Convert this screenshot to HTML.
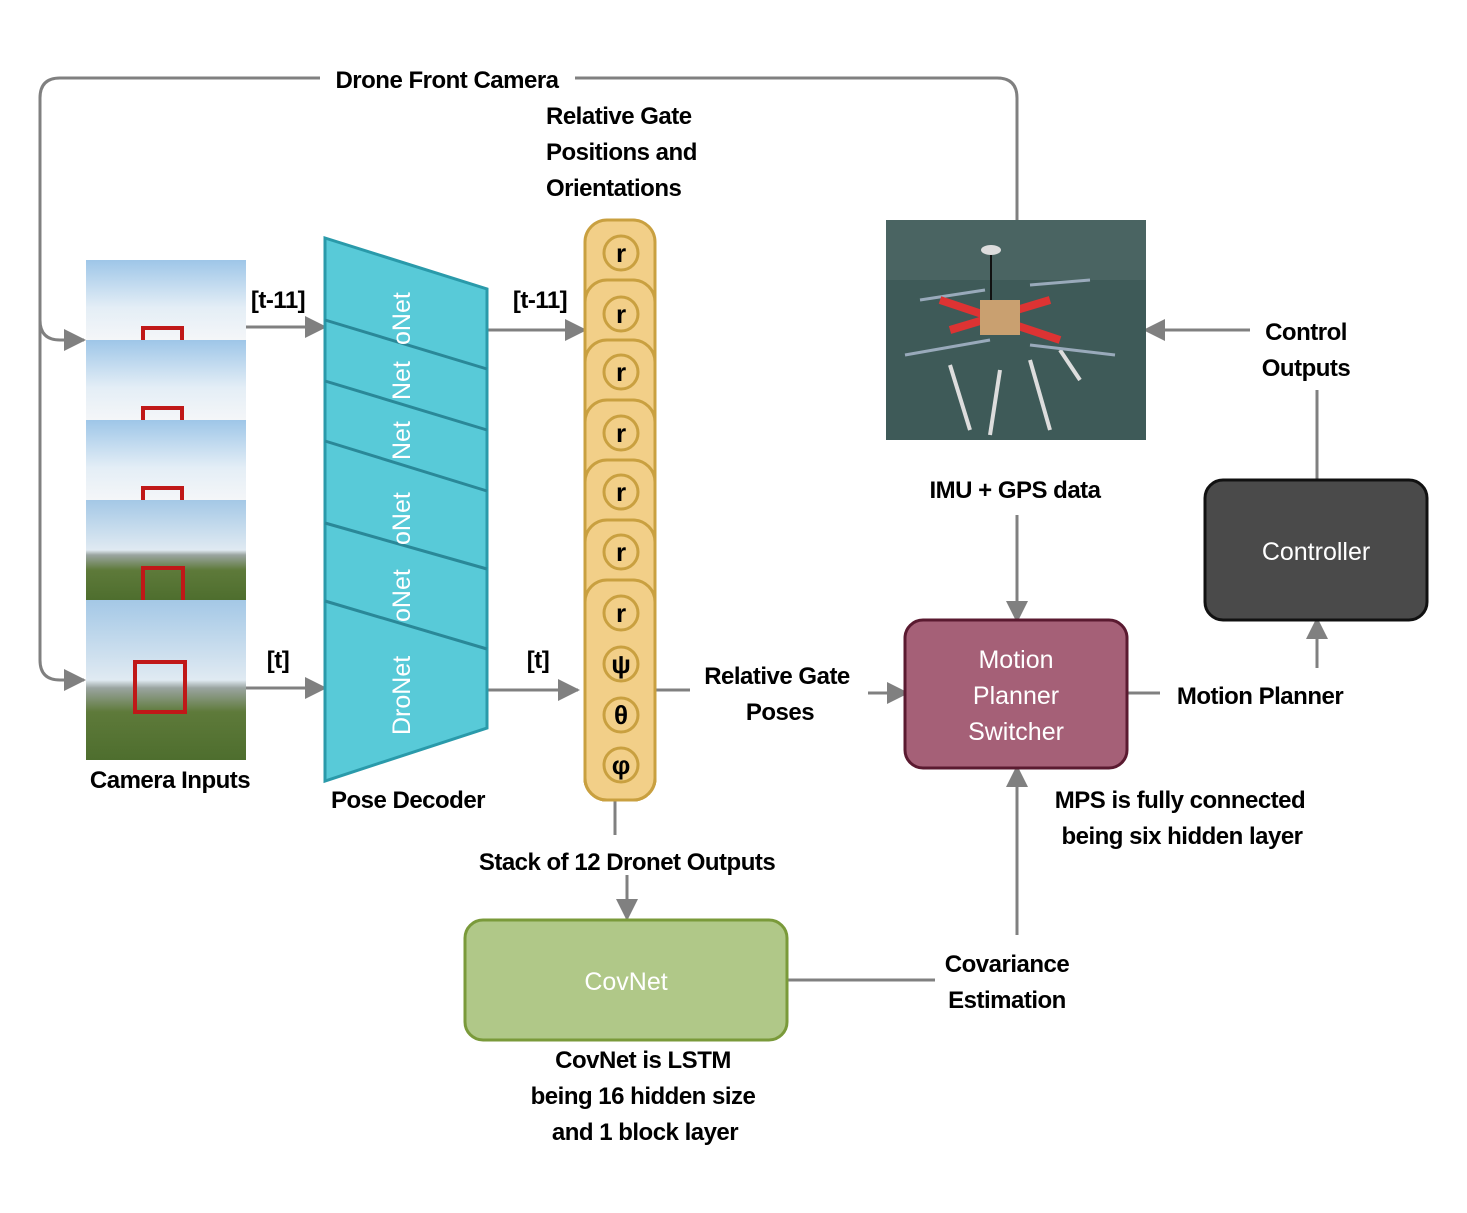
<!DOCTYPE html>
<html><head><meta charset="utf-8"><style>
html,body{margin:0;padding:0;background:#fff;}
svg text{font-family:"Liberation Sans",sans-serif;}
.l{font-weight:bold;font-size:24px;fill:#000;letter-spacing:-0.5px}
.w{fill:#fff;font-size:25px}
.c{font-weight:bold;font-size:26px;fill:#000}
</style></head><body>
<svg width="1467" height="1208" viewBox="0 0 1467 1208" xmlns="http://www.w3.org/2000/svg">
<defs>
<marker id="a" markerWidth="22" markerHeight="22" refX="20" refY="11" orient="auto" markerUnits="userSpaceOnUse" viewBox="0 0 22 22"><path d="M0,0 L22,11 L0,22 z" fill="#808080"/></marker>
<linearGradient id="sky" x1="0" y1="0" x2="0" y2="1"><stop offset="0" stop-color="#9ec6e8"/><stop offset="0.6" stop-color="#e4eef6"/><stop offset="1" stop-color="#f4f6f8"/></linearGradient>
<linearGradient id="sky2" x1="0" y1="0" x2="0" y2="1"><stop offset="0" stop-color="#a4c8e6"/><stop offset="0.5" stop-color="#e0eaf2"/><stop offset="0.55" stop-color="#9aa4a0"/><stop offset="0.7" stop-color="#5e7a3a"/><stop offset="1" stop-color="#4e6e2e"/></linearGradient>
</defs>
<g fill="none" stroke="#808080" stroke-width="3">
<path d="M320,78 H60 Q40,78 40,98 V660 Q40,680 60,680 H84" marker-end="url(#a)"/>
<path d="M40,320 Q40,340 60,340 H84" marker-end="url(#a)"/>
<path d="M575,78 H997 Q1017,78 1017,98 V220"/>
<path d="M246,327 H325" marker-end="url(#a)"/>
<path d="M246,688 H325" marker-end="url(#a)"/>
<path d="M487,330 H585" marker-end="url(#a)"/>
<path d="M487,690 H578" marker-end="url(#a)"/>
<path d="M655,690 H690"/>
<path d="M868,693 H907" marker-end="url(#a)"/>
<path d="M615,800 V835"/>
<path d="M627,875 V919" marker-end="url(#a)"/>
<path d="M787,980 H935"/>
<path d="M1017,935 V767" marker-end="url(#a)"/>
<path d="M1017,515 V621" marker-end="url(#a)"/>
<path d="M1127,693 H1160"/>
<path d="M1317,668 V619" marker-end="url(#a)"/>
<path d="M1317,480 V390"/>
<path d="M1250,330 H1145" marker-end="url(#a)"/>
</g>
<!-- camera images -->
<rect x="86" y="260" width="160" height="80" fill="url(#sky)"/>
<rect x="86" y="340" width="160" height="80" fill="url(#sky)"/>
<rect x="86" y="420" width="160" height="80" fill="url(#sky)"/>
<rect x="86" y="500" width="160" height="100" fill="url(#sky2)"/>
<rect x="86" y="600" width="160" height="160" fill="url(#sky2)"/>
<g fill="none" stroke="#c01818" stroke-width="4">
<path d="M143,340 V328 H182 V340"/><path d="M143,420 V408 H182 V420"/><path d="M143,500 V488 H182 V500"/>
<path d="M143,600 V568 H183 V600"/><path d="M135,712 V662 H185 V712 Z"/>
</g>
<!-- trapezoid -->
<polygon points="325,238 487,289 487,728 325,781" fill="#58cad8" stroke="#2a9aaa" stroke-width="3"/>
<g stroke="#2a8898" stroke-width="3">
<line x1="325" y1="320" x2="487" y2="369"/><line x1="325" y1="381" x2="487" y2="430"/>
<line x1="325" y1="441" x2="487" y2="491"/><line x1="325" y1="523" x2="487" y2="569"/>
<line x1="325" y1="601" x2="487" y2="649"/>
</g>
<g class="w">
<text transform="translate(410,345) rotate(-90)">oNet</text>
<text transform="translate(410,400) rotate(-90)">Net</text>
<text transform="translate(410,460) rotate(-90)">Net</text>
<text transform="translate(410,545) rotate(-90)">oNet</text>
<text transform="translate(410,622) rotate(-90)">oNet</text>
<text transform="translate(410,735) rotate(-90)">DroNet</text>
</g>
<!-- gold column -->
<g fill="#f2cf88" stroke="#c9a040" stroke-width="3">
<rect x="585" y="220" width="70" height="580" rx="22"/>
<rect x="585" y="280" width="70" height="520" rx="22"/>
<rect x="585" y="340" width="70" height="460" rx="22"/>
<rect x="585" y="400" width="70" height="400" rx="22"/>
<rect x="585" y="460" width="70" height="340" rx="22"/>
<rect x="585" y="520" width="70" height="280" rx="22"/>
<rect x="585" y="580" width="70" height="220" rx="22"/>
</g>
<g fill="#f2cf88" stroke="#c9a040" stroke-width="3">
<circle cx="621" cy="253" r="17"/><circle cx="621" cy="314" r="17"/><circle cx="621" cy="372" r="17"/>
<circle cx="621" cy="433" r="17"/><circle cx="621" cy="492" r="17"/><circle cx="621" cy="552" r="17"/>
<circle cx="621" cy="613" r="17"/><circle cx="621" cy="664" r="17"/><circle cx="621" cy="715" r="17"/><circle cx="621" cy="765" r="17"/>
</g>
<g class="c" text-anchor="middle">
<text x="621" y="262">r</text><text x="621" y="323">r</text><text x="621" y="381">r</text><text x="621" y="442">r</text>
<text x="621" y="501">r</text><text x="621" y="561">r</text><text x="621" y="622">r</text>
<text x="621" y="673">ψ</text><text x="621" y="724">θ</text><text x="621" y="774">φ</text>
</g>
<!-- drone photo -->
<rect x="886" y="220" width="260" height="220" fill="#3e5a58"/>
<rect x="886" y="220" width="260" height="60" fill="#4a6462"/>
<g stroke="#ddd" stroke-width="4" fill="none"><path d="M950,365 L970,430 M1000,370 L990,435 M1030,360 L1050,430 M1060,350 L1080,380"/></g>
<g stroke="#9ab" stroke-width="3"><line x1="905" y1="355" x2="990" y2="340"/><line x1="1030" y1="345" x2="1115" y2="355"/><line x1="920" y1="300" x2="985" y2="290"/><line x1="1030" y1="285" x2="1090" y2="280"/></g>
<g stroke="#d33" stroke-width="8"><line x1="940" y1="300" x2="1060" y2="340"/><line x1="950" y1="330" x2="1050" y2="300"/></g>
<rect x="980" y="300" width="40" height="35" fill="#c9a070"/>
<line x1="991" y1="250" x2="991" y2="300" stroke="#111" stroke-width="2"/>
<ellipse cx="991" cy="250" rx="10" ry="5" fill="#ddd"/>
<!-- boxes -->
<rect x="465" y="920" width="322" height="120" rx="18" fill="#b0c888" stroke="#7a9a3a" stroke-width="3"/>
<text x="626" y="990" text-anchor="middle" class="w">CovNet</text>
<rect x="905" y="620" width="222" height="148" rx="18" fill="#a56077" stroke="#5a1a30" stroke-width="3"/>
<g class="w" text-anchor="middle"><text x="1016" y="668">Motion</text><text x="1016" y="704">Planner</text><text x="1016" y="740">Switcher</text></g>
<rect x="1205" y="480" width="222" height="140" rx="18" fill="#4a4a4a" stroke="#111" stroke-width="3"/>
<text x="1316" y="560" text-anchor="middle" class="w">Controller</text>
<!-- labels -->
<g class="l">
<text x="447" y="88" text-anchor="middle">Drone Front Camera</text>
<text x="546" y="124">Relative Gate</text><text x="546" y="160">Positions and</text><text x="546" y="196">Orientations</text>
<text x="278" y="308" text-anchor="middle">[t-11]</text><text x="278" y="668" text-anchor="middle">[t]</text>
<text x="540" y="308" text-anchor="middle">[t-11]</text><text x="538" y="668" text-anchor="middle">[t]</text>
<text x="170" y="788" text-anchor="middle">Camera Inputs</text>
<text x="408" y="808" text-anchor="middle">Pose Decoder</text>
<text x="777" y="684" text-anchor="middle">Relative Gate</text><text x="780" y="720" text-anchor="middle">Poses</text>
<text x="627" y="870" text-anchor="middle">Stack of 12 Dronet Outputs</text>
<text x="643" y="1068" text-anchor="middle">CovNet is LSTM</text>
<text x="643" y="1104" text-anchor="middle">being 16 hidden size</text>
<text x="645" y="1140" text-anchor="middle">and 1 block layer</text>
<text x="1007" y="972" text-anchor="middle">Covariance</text><text x="1007" y="1008" text-anchor="middle">Estimation</text>
<text x="1015" y="498" text-anchor="middle">IMU + GPS data</text>
<text x="1180" y="808" text-anchor="middle">MPS is fully connected</text>
<text x="1182" y="844" text-anchor="middle">being six hidden layer</text>
<text x="1260" y="704" text-anchor="middle">Motion Planner</text>
<text x="1306" y="340" text-anchor="middle">Control</text><text x="1306" y="376" text-anchor="middle">Outputs</text>
</g>
</svg>
</body></html>
